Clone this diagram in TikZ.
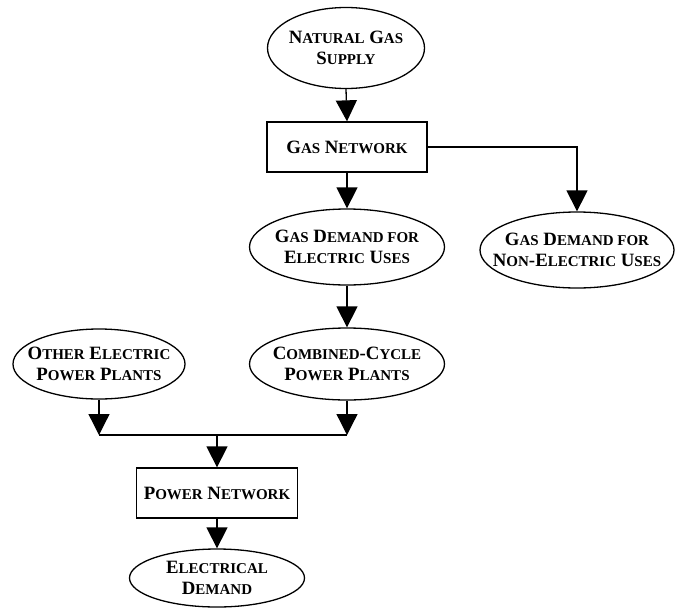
\documentclass[tikz,border=0pt]{standalone}
\usepackage{fontspec}
\setmainfont{Liberation Serif}
\usetikzlibrary{shapes.geometric,arrows.meta}
\newcommand\sm[1]{{\fontsize{15}{20.5}\selectfont #1}}
\begin{document}
\begin{tikzpicture}[x=1pt,y=-1pt,
  base/.style={draw,line width=1.3pt,align=center,inner sep=0pt,
    font=\fontsize{18.8}{20.5}\selectfont\bfseries},
  oval/.style={base,ellipse,inner xsep=-20pt,inner ysep=-6pt},
  boxnode/.style={base,rectangle},
  arr/.style={line width=1.3pt,-{Triangle[width=21pt,length=21pt]}},
  ln/.style={line width=1.3pt}]
\useasboundingbox (0,0) rectangle (676,610);
\node[oval,minimum width=157pt,minimum height=81pt] (ngs) at (346,48) {N\sm{ATURAL} G\sm{AS}\\S\sm{UPPLY}};
\node[boxnode,minimum width=160pt,minimum height=50pt] (gn) at (347,147) {G\sm{AS} N\sm{ETWORK}};
\node[oval,minimum width=195pt,minimum height=76pt] (gde) at (347,247) {G\sm{AS} D\sm{EMAND FOR}\\E\sm{LECTRIC} U\sm{SES}};
\node[oval,minimum width=194pt,minimum height=76pt] (ne) at (577,250) {G\sm{AS} D\sm{EMAND FOR}\\N\sm{ON}-E\sm{LECTRIC} U\sm{SES}};
\node[oval,minimum width=195pt,minimum height=72pt] (cc) at (347,364) {C\sm{OMBINED}-C\sm{YCLE}\\P\sm{OWER} P\sm{LANTS}};
\node[oval,minimum width=172pt,minimum height=70pt] (oe) at (99,364) {O\sm{THER} E\sm{LECTRIC}\\P\sm{OWER} P\sm{LANTS}};
\node[boxnode,minimum width=161pt,minimum height=50pt] (pn) at (217,493) {P\sm{OWER} N\sm{ETWORK}};
\node[oval,minimum width=175pt,minimum height=58pt] (ed) at (217,578) {E\sm{LECTRICAL}\\D\sm{EMAND}};
\coordinate (jl) at (99,435);
\coordinate (jr) at (347,435);
\coordinate (jm) at (217,435);
\draw[arr] (ngs.south) -- (gn.north);
\draw[arr] (gn.east) -| (ne.north);
\draw[arr] (gn.south) -- (gde.north);
\draw[arr] (gde.south) -- (cc.north);
\draw[arr] (oe.south) -- (jl);
\draw[arr] (cc.south) -- (jr);
\draw[ln] (jl) -- (jr);
\draw[arr] (jm) -- (pn.north);
\draw[arr] (pn.south) -- (ed.north);
\end{tikzpicture}
\end{document}
